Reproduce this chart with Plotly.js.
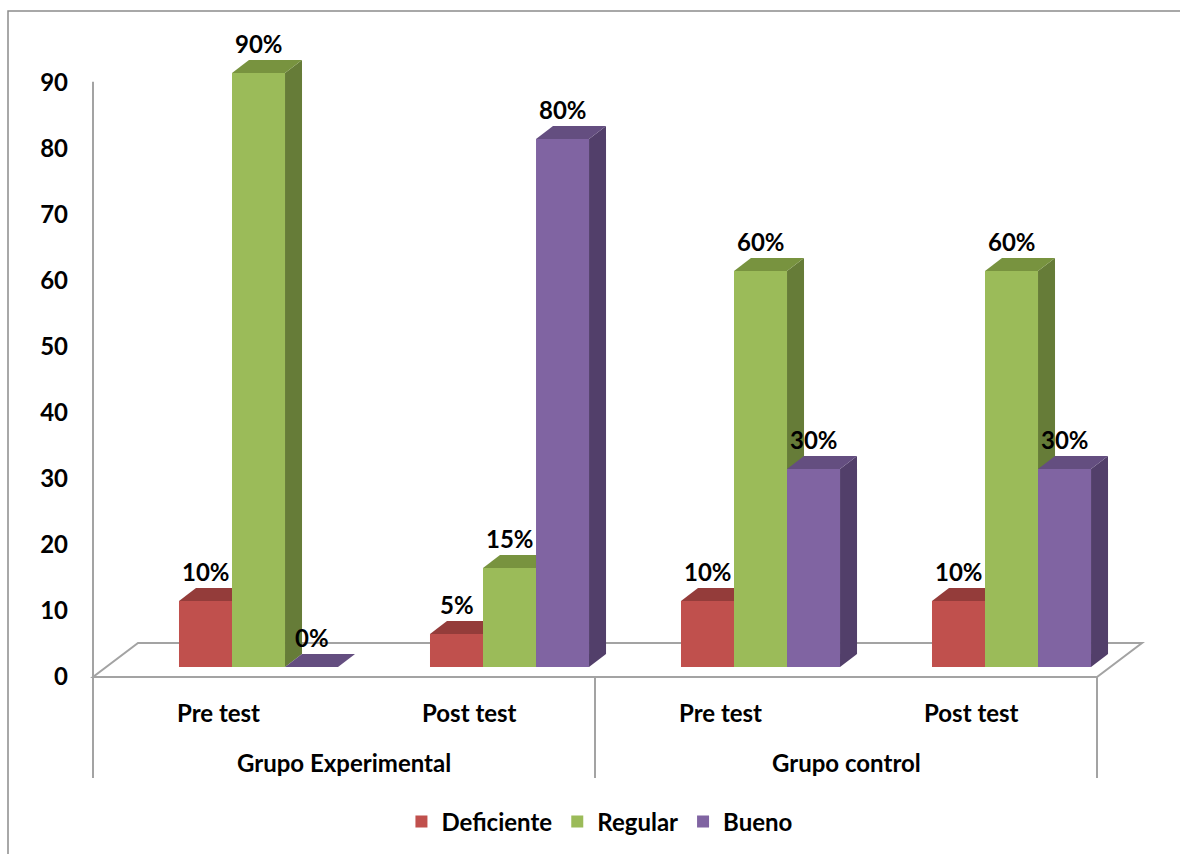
<!DOCTYPE html>
<html>
<head>
<meta charset="utf-8">
<script src="https://cdn.plot.ly/plotly-3.0.1.min.js"></script>
<style>
  html, body { margin: 0; padding: 0; background: #ffffff; }
  #chart { width: 1180px; height: 854px; }
</style>
</head>
<body>
<div id="chart"></div>
<script>
// ---- data ----
const categories = ['Pre test', 'Post test', 'Pre test', 'Post test'];
const groupNames = ['Grupo Experimental', 'Grupo control'];
const seriesNames = ['Deficiente', 'Regular', 'Bueno'];
const deficiente = [10, 5, 10, 10];
const regular = [90, 15, 60, 60];
const bueno = [0, 80, 30, 30];
const yTicks = [0, 10, 20, 30, 40, 50, 60, 70, 80, 90];

// ---- styling / geometry ----
const W = 1180, H = 854;
const FONT = 'Lato, Carlito, Calibri, "Open Sans", sans-serif';
const frontColors = ['#C0504D', '#9BBB59', '#8064A2'];
const topColors = ['#943C3A', '#78933F', '#644E80'];
const sideColors = ['#8A3532', '#667C38', '#523F6A'];
const GRID = '#A3A3A3';

const PX_PER_CAT = 251;      // horizontal pixels per category
const PX_PER_UNIT = 6.6;     // vertical pixels per value unit
const X0_PX = 93;            // left end of the floor front edge
const Y0_PX = 677;           // floor front edge (axis zero)
const BAR_LIFT_PX = 10;      // bars stand slightly back on the floor
const BAR_W = 0.2112;        // bar width in category units
const GROUP_SHIFT = 0.1594;  // bar cluster sits deeper than the labels
const DX = 17 / PX_PER_CAT, DY = 13 / PX_PER_UNIT;        // bar depth
const FDX = 45 / PX_PER_CAT, FDY = 34 / PX_PER_UNIT;      // floor depth

const xRange = [-X0_PX / PX_PER_CAT, (W - X0_PX) / PX_PER_CAT];
const yRange = [-(H - Y0_PX) / PX_PER_UNIT, Y0_PX / PX_PER_UNIT];
const y2Range = [-(H - Y0_PX + BAR_LIFT_PX) / PX_PER_UNIT, (Y0_PX - BAR_LIFT_PX) / PX_PER_UNIT];

const series = [deficiente, regular, bueno];
const nCat = categories.length;

function barCenter(i, k) { return i + 0.5 + GROUP_SHIFT + (k - 1) * BAR_W; }

// front faces: real bar traces
const traces = series.map((vals, k) => ({
  type: 'bar',
  name: seriesNames[k],
  x: vals.map((_, i) => barCenter(i, k)),
  y: vals,
  width: vals.map(() => BAR_W),
  xaxis: 'x', yaxis: 'y2',
  marker: { color: frontColors[k], line: { width: 0 } },
  hoverinfo: 'skip'
}));

const shapes = [];
// floor
shapes.push({
  type: 'path', xref: 'x', yref: 'y', layer: 'below',
  path: `M 0,0 L ${nCat},0 L ${nCat + FDX},${FDY} L ${FDX},${FDY} Z`,
  fillcolor: '#ffffff', line: { color: GRID, width: 2 }
});
// side faces, then top faces (drawn under the fronts)
const sides = [], tops = [];
series.forEach((vals, k) => {
  vals.forEach((v, i) => {
    const L = barCenter(i, k) - BAR_W / 2, R = L + BAR_W;
    if (v > 0) {
      sides.push({
        type: 'path', xref: 'x', yref: 'y2', layer: 'below',
        path: `M ${R},0 L ${R + DX},${DY} L ${R + DX},${v + DY} L ${R},${v} Z`,
        fillcolor: sideColors[k], line: { width: 0 }
      });
    }
    tops.push({
      type: 'path', xref: 'x', yref: 'y2', layer: 'below',
      path: `M ${L},${v} L ${R},${v} L ${R + DX},${v + DY} L ${L + DX},${v + DY} Z`,
      fillcolor: topColors[k], line: { width: 0 }
    });
  });
});
shapes.push(...sides, ...tops);
// value axis line
shapes.push({
  type: 'line', xref: 'x', yref: 'y', x0: 0, x1: 0, y0: 0, y1: yTicks[yTicks.length - 1] + 0.2,
  line: { color: GRID, width: 2 }
});
// group dividers below the floor
const sepBottom = 1 - 778 / H;
for (let g = 0; g <= groupNames.length; g++) {
  const xv = g * nCat / groupNames.length;
  shapes.push({
    type: 'line', xref: 'x', yref: 'paper', x0: xv, x1: xv,
    y0: sepBottom, y1: 1 - Y0_PX / H,
    line: { color: GRID, width: 2 }
  });
}
// chart frame
shapes.push({
  type: 'rect', xref: 'paper', yref: 'paper',
  x0: 8 / W, x1: 1.02, y0: -0.02, y1: 1 - 11 / H,
  line: { color: '#8C8C8C', width: 1.5 }, fillcolor: 'rgba(0,0,0,0)'
});

const labelFont = { family: FONT, size: 24, color: '#000000', weight: 'bold' };
const annotations = [];
// value labels
series.forEach((vals, k) => {
  vals.forEach((v, i) => {
    annotations.push({
      xref: 'x', yref: 'y2', x: barCenter(i, k), y: v + DY,
      text: v + '%', showarrow: false, xanchor: 'center', yanchor: 'bottom',
      yshift: 0, font: labelFont
    });
  });
});
// category labels
categories.forEach((c, i) => {
  annotations.push({
    xref: 'x', yref: 'paper', x: i + 0.5, y: 1 - 712 / H,
    text: c, showarrow: false, xanchor: 'center', yanchor: 'middle', font: labelFont
  });
});
// group labels
groupNames.forEach((g, j) => {
  const per = nCat / groupNames.length;
  annotations.push({
    xref: 'x', yref: 'paper', x: j * per + per / 2, y: 1 - 762 / H,
    text: g, showarrow: false, xanchor: 'center', yanchor: 'middle', font: labelFont
  });
});

const layout = {
  width: W, height: H,
  margin: { l: 0, r: 0, t: 0, b: 0 },
  paper_bgcolor: '#ffffff', plot_bgcolor: 'rgba(0,0,0,0)',
  showlegend: true,
  legend: {
    orientation: 'h', x: 0.508, xanchor: 'center', y: 1 - 822 / H, yanchor: 'middle',
    font: labelFont, itemwidth: 30, traceorder: 'normal', bgcolor: 'rgba(0,0,0,0)'
  },
  xaxis: {
    range: xRange, showgrid: false, zeroline: false, showline: false,
    showticklabels: false, ticks: '', fixedrange: true
  },
  yaxis: {
    range: yRange, anchor: 'free', position: X0_PX / W, side: 'left',
    tickmode: 'array', tickvals: yTicks, ticktext: yTicks.map(String),
    showgrid: false, zeroline: false, showline: false, ticks: '',
    ticklabelstandoff: 25, tickfont: labelFont, fixedrange: true
  },
  yaxis2: {
    range: y2Range, overlaying: 'y', visible: false, fixedrange: true
  },
  barmode: 'overlay',
  shapes: shapes,
  annotations: annotations
};

Plotly.newPlot('chart', traces, layout, { displayModeBar: false, staticPlot: true });
</script>
</body>
</html>
